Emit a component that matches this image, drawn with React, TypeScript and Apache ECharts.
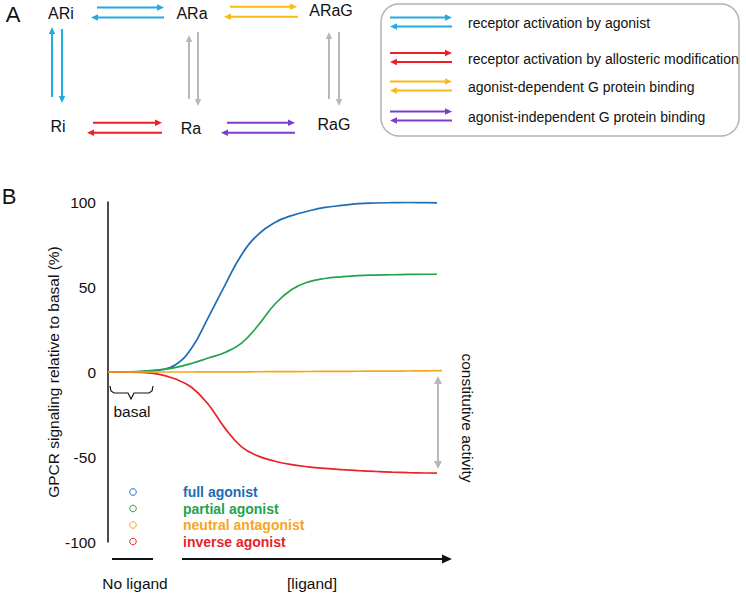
import React, { useEffect, useRef } from "react";
import * as echarts from "echarts";

// ---- Data (panel B) ----
const ligand = [0, 5, 10, 15, 20, 25, 30, 35, 40, 45, 50, 55, 60, 65, 70, 75, 80, 85, 90, 95, 98.5];
const fullAgonist = [0, 0.1, 0.3, 1, 4, 14, 32, 51, 69, 81, 88, 92, 94.7, 96.8, 98, 99, 99.4, 99.6, 99.7, 99.6, 99.5];
const partialAgonist = [0, 0.1, 0.4, 1.2, 2.6, 5, 8.2, 11.5, 17, 27.5, 40, 48.5, 53, 55, 56, 56.7, 57, 57.2, 57.4, 57.5, 57.5];
const neutralAntagonist = [0, 0, 0, 0, 0, 0, 0.05, 0.1, 0.1, 0.15, 0.2, 0.25, 0.3, 0.35, 0.4, 0.45, 0.5, 0.55, 0.6, 0.7, 0.8];
const inverseAgonist = [0, -0.1, -0.3, -1.2, -4, -9, -19, -33, -44, -49.5, -52.5, -54.5, -55.8, -56.7, -57.4, -58, -58.5, -58.9, -59.2, -59.4, -59.5];
const yTickValues = [-100, -50, 0, 50, 100];

const seriesNames = ["full agonist", "partial agonist", "neutral antagonist", "inverse agonist"];
const seriesValues = [fullAgonist, partialAgonist, neutralAntagonist, inverseAgonist];
const seriesColors = ["#1c6db5", "#22a34c", "#f8a51c", "#e8232b"];

// ---- Panel A ----
const statesTop = ["ARi", "ARa", "ARaG"];
const statesBottom = ["Ri", "Ra", "RaG"];
const schemeLegend = [
  "receptor activation by agonist",
  "receptor activation by allosteric modification",
  "agonist-dependent G protein binding",
  "agonist-independent G protein binding",
];
const cyan = "#23aae2";
const red = "#ec1f27";
const yellow = "#f9ba18";
const purple = "#7b3ccf";
const gray = "#b8b8b8";
const schemeColors = [cyan, red, yellow, purple];

const FONT = "Liberation Sans, Arial, sans-serif";

function arrow(x1: number, y1: number, x2: number, y2: number, color: string, lw = 2, hl = 7, hw = 3.2) {
  const dx = x2 - x1;
  const dy = y2 - y1;
  const len = Math.hypot(dx, dy);
  const ux = dx / len;
  const uy = dy / len;
  const bx = x2 - ux * hl;
  const by = y2 - uy * hl;
  const px = -uy;
  const py = ux;
  return [
    { type: "line", silent: true, shape: { x1, y1, x2: bx + ux, y2: by + uy }, style: { stroke: color, lineWidth: lw } },
    {
      type: "polygon",
      silent: true,
      shape: { points: [[x2, y2], [bx + px * hw, by + py * hw], [bx - px * hw, by - py * hw]] },
      style: { fill: color },
    },
  ];
}

function text(x: number, y: number, t: string, size: number, opts: any = {}) {
  return {
    type: "text",
    silent: true,
    x,
    y,
    rotation: opts.rotation || 0,
    style: {
      text: t,
      fontFamily: FONT,
      fontSize: size,
      fontWeight: opts.bold ? "bold" : "normal",
      fill: opts.color || "#111",
      align: opts.align || "center",
      verticalAlign: "middle",
    },
  };
}

export default function App() {
  const ref = useRef<HTMLDivElement>(null);

  useEffect(() => {
    if (!ref.current) return;
    const chart = echarts.init(ref.current, null, { renderer: "svg" });

    const topPos = [[61, 13], [192, 13], [331, 10]];
    const botPos = [[58, 126], [191, 128], [334, 124]];

    const graphics: any[] = [];
    graphics.push(text(13, 14, "A", 22, { align: "center" }));
    graphics.push(text(9, 196, "B", 22, { align: "center" }));
    statesTop.forEach((s, i) => graphics.push(text(topPos[i][0], topPos[i][1], s, 16)));
    statesBottom.forEach((s, i) => graphics.push(text(botPos[i][0], botPos[i][1], s, 16)));

    // Scheme arrows
    graphics.push(...arrow(97, 7.5, 164, 7.5, cyan));
    graphics.push(...arrow(164, 17.5, 91, 17.5, cyan));
    graphics.push(...arrow(230, 6.7, 297, 6.7, yellow));
    graphics.push(...arrow(298, 16.7, 224, 16.7, yellow));
    graphics.push(...arrow(52, 97, 52, 27, cyan));
    graphics.push(...arrow(62, 29, 62, 103, cyan));
    graphics.push(...arrow(189, 99, 189, 35, gray));
    graphics.push(...arrow(198, 32, 198, 106, gray));
    graphics.push(...arrow(329, 99, 329, 32, gray));
    graphics.push(...arrow(339, 32, 339, 106, gray));
    graphics.push(...arrow(93, 122.7, 162, 122.7, red));
    graphics.push(...arrow(162, 132.7, 87, 132.7, red));
    graphics.push(...arrow(227, 122.7, 295, 122.7, purple));
    graphics.push(...arrow(295, 132.7, 221, 132.7, purple));

    // Scheme legend box
    graphics.push({
      type: "rect",
      silent: true,
      shape: { x: 381, y: 4, width: 358, height: 132, r: 18 },
      style: { fill: "none", stroke: "#b3b3b3", lineWidth: 1.5 },
    });
    const pairCenters = [22, 57.5, 86, 116];
    schemeLegend.forEach((label, i) => {
      const c = pairCenters[i];
      graphics.push(...arrow(390, c - 4.5, 452, c - 4.5, schemeColors[i]));
      graphics.push(...arrow(452, c + 4.5, 390, c + 4.5, schemeColors[i]));
      graphics.push(text(468, c + 1, label, 14, { align: "left" }));
    });

    // Panel B legend
    const legYs = [492, 508.5, 525, 541.5];
    seriesNames.forEach((n, i) => {
      graphics.push({
        type: "circle",
        silent: true,
        shape: { cx: 133, cy: legYs[i], r: 3.3 },
        style: { fill: "none", stroke: seriesColors[i], lineWidth: 1 },
      });
      graphics.push(text(183, legYs[i], n, 14, { align: "left", bold: true, color: seriesColors[i] }));
    });

    // Bottom axis segments
    graphics.push({ type: "line", silent: true, shape: { x1: 112, y1: 559, x2: 153, y2: 559 }, style: { stroke: "#111", lineWidth: 2 } });
    graphics.push(...arrow(182, 559, 452, 559, "#111", 2, 10, 4.5));
    graphics.push(text(135, 583, "No ligand", 15.5));
    graphics.push(text(312, 583, "[ligand]", 15.5));

    // basal brace
    graphics.push({
      type: "polyline",
      silent: true,
      shape: {
        points: [[110, 386], [111, 391], [114, 393], [128, 393], [131, 399], [134, 393], [149, 393], [152, 391], [153, 386]],
      },
      style: { stroke: "#111", lineWidth: 1.2, fill: "none" },
    });
    graphics.push(text(132, 411, "basal", 15.5));

    // constitutive activity
    graphics.push(...arrow(438, 422, 438, 376, gray, 2, 8, 4));
    graphics.push(...arrow(438, 422, 438, 469, gray, 2, 8, 4));
    graphics.push(text(467, 418, "constitutive activity", 15.5, { rotation: -Math.PI / 2 }));

    const option: any = {
      animation: false,
      backgroundColor: "#ffffff",
      textStyle: { fontFamily: FONT },
      grid: { left: 108, top: 202, right: 304, bottom: 53, containLabel: false },
      xAxis: { type: "value", min: 0, max: 100, show: false },
      yAxis: {
        type: "value",
        min: yTickValues[0],
        max: yTickValues[yTickValues.length - 1],
        interval: yTickValues[1] - yTickValues[0],
        name: "GPCR signaling relative to basal (%)",
        nameLocation: "middle",
        nameRotate: 90,
        nameGap: 47,
        nameTextStyle: { fontFamily: FONT, fontSize: 15.5, color: "#111" },
        axisLine: { show: true, lineStyle: { color: "#111", width: 1.5 } },
        axisTick: { show: false },
        splitLine: { show: false },
        axisLabel: { fontFamily: FONT, fontSize: 15.5, color: "#111", margin: 12 },
      },
      series: seriesNames.map((n, i) => ({
        name: n,
        type: "line",
        smooth: 0.45,
        showSymbol: false,
        data: ligand.map((x, j) => [i === 2 && j === ligand.length - 1 ? 100 : x, seriesValues[i][j]]),
        lineStyle: { color: seriesColors[i], width: 1.7 },
        itemStyle: { color: seriesColors[i] },
        z: i === 2 ? 3 : 2,
      })),
      graphic: { elements: graphics },
    };

    chart.setOption(option);
    return () => chart.dispose();
  }, []);

  return (
    <div
      ref={ref}
      style={{ position: "fixed", left: 0, top: 0, width: 746, height: 595, background: "#fff" }}
    />
  );
}
